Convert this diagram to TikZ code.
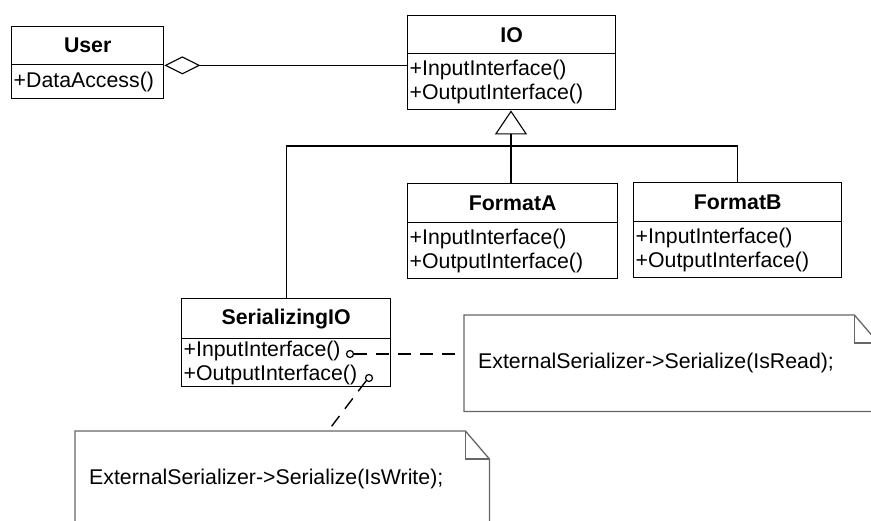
\documentclass[tikz,border=0pt]{standalone}
\usepackage{fontspec}
\setmainfont{Liberation Sans}
\usepackage{tikz}
\usetikzlibrary{arrows.meta,shapes.geometric}

\begin{document}
\begin{tikzpicture}[
    x=1pt, y=-1pt,
    every node/.style={font=\fontsize{21.3}{24}\selectfont},
    classhead/.style={draw, line width=1.4pt, minimum height=38pt, anchor=north west, font=\fontsize{21.3}{24}\selectfont\bfseries},
    classbody/.style={draw, line width=1.4pt, anchor=north west, align=left, inner xsep=2pt, inner ysep=0pt},
    port/.style={circle, draw, line width=1.2pt, inner sep=0pt, minimum size=7pt},
    notebox/.style={minimum width=414pt, minimum height=96pt, anchor=north west, inner xsep=14pt, text width=386pt, align=left},
    notefrm/.style={draw=black!60, line width=1.3pt},
    link/.style={line width=1.4pt, dash pattern=on 13pt off 9pt},
    wire/.style={line width=1.1pt}
]
\useasboundingbox (0,0) rectangle (871,520);
\clip (0,0) rectangle (871,520);

% classes
\node[classhead, minimum width=152pt] (userh) at (11,26) {User};
\node[classbody, minimum width=152pt, text width=148pt, minimum height=34pt] (userb) at (11,64) {+DataAccess()};

\node[classhead, minimum width=208pt] (ioh) at (407,15) {IO};
\node[classbody, minimum width=208pt, text width=204pt, minimum height=56pt] (iob) at (407,53) {+InputInterface()\\+OutputInterface()};

\node[classhead, minimum width=210pt, minimum height=39pt] (fah) at (407,183) {FormatA};
\node[classbody, minimum width=210pt, text width=206pt, minimum height=56pt] (fab) at (407,222) {+InputInterface()\\+OutputInterface()};

\node[classhead, minimum width=208pt, minimum height=39pt] (fbh) at (633,182) {FormatB};
\node[classbody, minimum width=208pt, text width=204pt, minimum height=56pt] (fbb) at (633,221) {+InputInterface()\\+OutputInterface()};

\node[classhead, minimum width=209pt, minimum height=40pt] (sioh) at (181,298) {SerializingIO};
\node[classbody, minimum width=209pt, text width=205pt, minimum height=48pt] (siob) at (181,338) {+InputInterface()\\+OutputInterface()};

% notes
\node[notebox] (readnote) at (464,315) {ExternalSerializer->Serialize(IsRead);};
\draw[notefrm] (readnote.north west) -- ([xshift=-24pt]readnote.north east) -- ([yshift=-28pt]readnote.north east) -- (readnote.south east) -- (readnote.south west) -- cycle;
\draw[notefrm] ([xshift=-24pt]readnote.north east) -- ([xshift=-24pt,yshift=-28pt]readnote.north east) -- ([yshift=-28pt]readnote.north east);

\node[notebox] (writenote) at (75,431) {ExternalSerializer->Serialize(IsWrite);};
\draw[notefrm] (writenote.north west) -- ([xshift=-24pt]writenote.north east) -- ([yshift=-28pt]writenote.north east) -- (writenote.south east) -- (writenote.south west) -- cycle;
\draw[notefrm] ([xshift=-24pt]writenote.north east) -- ([xshift=-24pt,yshift=-28pt]writenote.north east) -- ([yshift=-28pt]writenote.north east);

% connectors
\draw[wire, {Diamond[open, length=36pt, width=18pt, line width=1.1pt]}-] (userh.south east) -- (userh.south east -| iob.west);

\coordinate (jn) at (511,146);
\draw[wire, -{Triangle[open, length=24pt, width=32pt, line width=1.1pt]}] (fah.north -| jn) -- (iob.south -| jn);
\draw[wire] (sioh.north) |- (jn) -| (fbh.north);

\node[port] (inp) at (350,354) {};
\node[port] (outp) at (369,378) {};
\coordinate (wtip) at (328,431);
\draw[link] (inp.east) -- (inp -| readnote.west);
\draw[link] (outp.south west) -- (wtip);
\end{tikzpicture}
\end{document}
